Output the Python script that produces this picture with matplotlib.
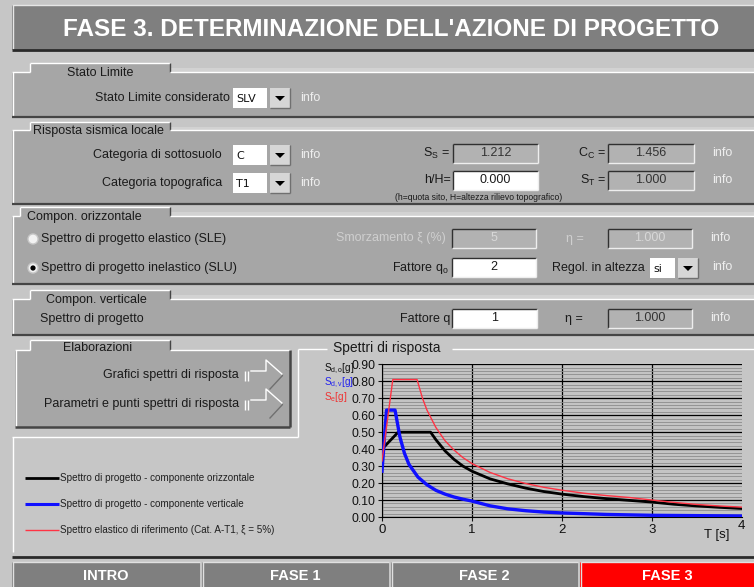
import matplotlib
matplotlib.use('Agg')
import matplotlib.pyplot as plt
from matplotlib.patches import Rectangle, Circle, Polygon

plt.rcParams['font.family'] = ['Liberation Sans', 'DejaVu Sans']
plt.rcParams['mathtext.fontset'] = 'custom'
plt.rcParams['mathtext.rm'] = 'Liberation Sans'
plt.rcParams['mathtext.it'] = 'Liberation Sans:italic'

# spettro di progetto - componente orizzontale (SLU, q=2)
t_oriz = [0.00, 0.18, 0.54, 0.60, 0.70, 0.80, 0.90, 1.00, 1.20, 1.40, 1.60, 1.80,
          2.00, 2.25, 2.50, 2.75, 3.00, 3.25, 3.50, 3.75, 4.00]
sd_oriz = [0.40, 0.50, 0.50, 0.455, 0.39, 0.34, 0.30, 0.27, 0.225, 0.195, 0.17, 0.15,
           0.135, 0.12, 0.108, 0.098, 0.088, 0.075, 0.065, 0.057, 0.05]

# spettro di progetto - componente verticale
t_vert = [0.00, 0.05, 0.145, 0.20, 0.25, 0.30, 0.40, 0.50, 0.60, 0.70, 0.80, 0.90,
          1.00, 1.20, 1.40, 1.60, 1.80, 2.00, 2.50, 3.00, 3.50, 4.00]
sd_vert = [0.27, 0.63, 0.63, 0.47, 0.375, 0.31, 0.235, 0.19, 0.157, 0.135, 0.118, 0.105,
           0.094, 0.066, 0.048, 0.037, 0.029, 0.024, 0.015, 0.010, 0.008, 0.006]

# spettro elastico di riferimento (Cat. A-T1)
t_el = [0.00, 0.12, 0.39, 0.45, 0.50, 0.60, 0.70, 0.80, 0.90, 1.00, 1.20, 1.40, 1.60,
        1.80, 2.00, 2.25, 2.50, 2.75, 3.00, 3.25, 3.50, 3.75, 4.00]
se_el = [0.33, 0.81, 0.81, 0.70, 0.63, 0.527, 0.45, 0.395, 0.35, 0.315, 0.263, 0.225, 0.197,
         0.175, 0.158, 0.14, 0.126, 0.115, 0.10, 0.086, 0.074, 0.065, 0.058]

y_ticks = [0.0, 0.1, 0.2, 0.3, 0.4, 0.5, 0.6, 0.7, 0.8, 0.9]
y_minor = [i / 50 for i in range(46)]
x_ticks = [0, 1, 2, 3]

legend_labels = ['Spettro di progetto - componente orizzontale',
                 'Spettro di progetto - componente verticale',
                 'Spettro elastico di riferimento (Cat. A-T1, \u03be = 5%)']
tab_labels = ['INTRO', 'FASE 1', 'FASE 2', 'FASE 3']

stato_limite = 'SLV'
cat_sottosuolo = 'C'
cat_topografica = 'T1'
ss_val, cc_val, hH_val, st_val = '1.212', '1.456', '0.000', '1.000'
smorz_val, eta_val, q0_val, regol_val, qv_val = '5', '1.000', '2', 'si', '1'

W, H = 754, 587
BG = '#c6c6c6'
PANEL = '#a6a6a6'
DARK = '#454545'
FS = 9

fig = plt.figure(figsize=(W / 100, H / 100), dpi=100)
fig.patch.set_facecolor(BG)
ui = fig.add_axes([0, 0, 1, 1])
ui.set_xlim(0, W)
ui.set_ylim(H, 0)
ui.axis('off')


def rect(x0, y0, x1, y1, fc, ec='none', lw=1, z=1):
    ui.add_patch(Rectangle((x0, y0), x1 - x0, y1 - y0, fc=fc, ec=ec, lw=lw, zorder=z))


def hline(x0, x1, y, c, lw=1, z=3):
    ui.plot([x0, x1], [y, y], color=c, lw=lw, zorder=z, solid_capstyle='butt')


def vline(x, y0, y1, c, lw=1, z=3):
    ui.plot([x, x], [y0, y1], color=c, lw=lw, zorder=z, solid_capstyle='butt')


def txt(x, y, s, size=FS, color='#1a1a1a', ha='left', **kw):
    ui.text(x, y, s, fontsize=size, color=color, ha=ha, va='center', zorder=6, **kw)


def field(x0, x1, yc, s, fc='white', tc='#1a1a1a', h=19):
    rect(x0, yc - h / 2, x1, yc + h / 2, fc, z=2)
    hline(x0, x1, yc - h / 2, '#303030')
    vline(x0, yc - h / 2, yc + h / 2, '#303030')
    hline(x0, x1, yc + h / 2, '#eeeeee')
    vline(x1, yc - h / 2, yc + h / 2, '#eeeeee')
    txt((x0 + x1) / 2, yc, s, size=9, color=tc, ha='center')


def combo(x0, x1, yc, s, h=20):
    rect(x0, yc - h / 2, x1, yc + h / 2, 'white', z=2)
    txt(x0 + 3, yc + 1, s, size=8, color='#101010', family=['DejaVu Sans'])
    bx0, bx1 = x1 + 3, x1 + 23
    rect(bx0, yc - h / 2, bx1, yc + h / 2, '#d6d6d6', z=2)
    vline(bx1, yc - h / 2, yc + h / 2, '#707070')
    hline(bx0, bx1, yc + h / 2, '#707070')
    cx = (bx0 + bx1) / 2
    ui.add_patch(Polygon([[cx - 5, yc - 2], [cx + 5, yc - 2], [cx, yc + 3]],
                         closed=True, fc='black', ec='none', zorder=4))


def info(x, y):
    txt(x, y, 'info', color='#eeeeee')


def section(y_tab, y0, y1, label, x_tab0=30, x_tab1=170, x0=12, x_end=W, lx=None):
    rect(x0, y0, x_end, y1, PANEL)
    rect(x_tab1, y_tab + 5, x_end, y0, '#d2d2d2')
    rect(x_tab0, y_tab, x_tab1, y0 + 1, PANEL, z=2)
    hline(x_tab0, x_tab1, y_tab, 'white')
    vline(x_tab0, y_tab, y0, 'white')
    vline(x_tab1, y_tab, y0, DARK)
    hline(x0, x_tab0, y0, 'white')
    hline(x_tab1, x_end, y0, 'white')
    vline(x0 + 1, y0, y1, 'white')
    hline(x0, x_end, y1, DARK, lw=1.6)
    txt(lx if lx is not None else x_tab0 + 37, y0 + 1, label)


# title bar
rect(12, 5, W, 50, '#7f7f7f')
hline(12, W, 5, '#e6e6e6')
vline(12.5, 5, 50, '#e6e6e6')
hline(12, W, 50, '#2a2a2a', lw=2)
txt(391, 29, "FASE 3. DETERMINAZIONE DELL'AZIONE DI PROGETTO", size=17.5, color='white',
    ha='center', weight='bold')

# Stato Limite
section(63, 72, 117, 'Stato Limite')
txt(230, 98, 'Stato Limite considerato', ha='right')
combo(233, 267, 98, stato_limite)
info(300, 98)

# Risposta sismica locale
section(122, 130, 204, 'Risposta sismica locale', lx=33)
txt(222, 155, 'Categoria di sottosuolo', ha='right')
combo(233, 267, 155, cat_sottosuolo)
info(300, 155)
txt(222, 183, 'Categoria topografica', ha='right')
combo(233, 267, 183, cat_topografica)
info(300, 183)
txt(450, 153, r'S$_\mathrm{S}$ =', ha='right')
field(453, 538, 153, ss_val, fc='#b2b2b2', tc='#333333')
txt(606, 153, r'C$_\mathrm{C}$ =', ha='right')
field(608, 694, 153, cc_val, fc='#b2b2b2', tc='#333333')
info(712, 153)
txt(451, 180, 'h/H=', ha='right')
field(453, 538, 180, hH_val)
txt(606, 180, r'S$_\mathrm{T}$ =', ha='right')
field(608, 694, 180, st_val, fc='#b2b2b2', tc='#333333')
info(712, 180)
txt(395, 198, '(h=quota sito, H=altezza rilievo topografico)', size=6.2)

# Compon. orizzontale
section(207, 216, 284, 'Compon. orizzontale', x_tab0=20, lx=27)
ui.add_patch(Circle((33, 239), 5, fc='#f2f2f2', ec='#c8c8c8', lw=1, zorder=4))
txt(41, 239, 'Spettro di progetto elastico (SLE)')
txt(446, 238, 'Smorzamento \u03be (%)', ha='right', color='#cfcfcf')
field(452, 536, 238, smorz_val, fc='#b2b2b2', tc='#d8d8d8')
txt(584, 239, '\u03b7 =', ha='right', color='#cfcfcf')
field(608, 692, 238, eta_val, fc='#b2b2b2', tc='#d8d8d8')
info(710, 238)
ui.add_patch(Circle((33, 268), 5, fc='#f2f2f2', ec='#c8c8c8', lw=1, zorder=4))
ui.add_patch(Circle((33, 268), 2.6, fc='black', ec='none', zorder=5))
txt(41, 268, 'Spettro di progetto inelastico (SLU)')
txt(449, 268, r'Fattore q$_\mathrm{o}$', ha='right')
field(452, 536, 267, q0_val)
txt(552, 268, 'Regol. in altezza')
combo(650, 675, 268, regol_val)
info(712, 267)

# Compon. verticale
section(290, 299, 335, 'Compon. verticale', x_tab0=30, lx=46)
txt(40, 319, 'Spettro di progetto')
txt(450, 319, 'Fattore q', ha='right')
field(452, 537, 318, qv_val)
txt(583, 319, '\u03b7 =', ha='right')
field(608, 692, 318, eta_val, fc='#b2b2b2', tc='#333333')
info(710, 318)

# Elaborazioni
rect(15, 350, 290, 427, PANEL)
rect(30, 340, 170, 351, PANEL, z=2)
hline(30, 170, 340, 'white')
vline(30, 340, 350, 'white')
vline(170, 340, 350, DARK)
hline(15, 30, 350, 'white')
hline(170, 290, 350, 'white')
vline(15.5, 350, 427, 'white')
hline(15, 290, 427, DARK, lw=1.8)
vline(290, 350, 427, DARK, lw=1.8)
txt(63, 348, 'Elaborazioni')
for yy, lab in [(375, 'Grafici spettri di risposta'),
                (404, 'Parametri e punti spettri di risposta')]:
    txt(239, yy, lab, ha='right')
    vline(245, yy - 4, yy + 6, 'white')
    vline(248, yy - 4, yy + 6, 'white')
    ui.plot([251, 266, 266, 283], [yy - 4, yy - 4, yy - 15, yy], color='white', lw=1, zorder=4)
    ui.plot([283, 270], [yy, yy + 14], color='#707070', lw=1, zorder=4)

# frame of chart / legend group
hline(298, 327, 349, 'white')
hline(452, W, 349, 'white')
vline(298, 349, 437, 'white')
hline(12, 298, 437, 'white')
vline(12.5, 437, 552, 'white')
txt(333, 348, 'Spettri di risposta', size=10)

# legend
leg_cols = ['black', '#1010ff', '#ff3344']
leg_lw = [2, 2.2, 1]
for i, (lab, c) in enumerate(zip(legend_labels, leg_cols)):
    yy = 478 + 26 * i
    hline(25, 59, yy, c, lw=leg_lw[i])
    txt(60, yy, lab, size=7.1, color='#202020')

# y labels
txt(324, 369, r'S$_\mathrm{d,o}$[g]', size=7.2, color='#111111')
txt(324, 383, r'S$_\mathrm{d,v}$[g]', size=7.2, color='#2222ee')
txt(324, 397, r'S$_\mathrm{e}$[g]', size=7.2, color='#ee3333')

# bottom tabs
hline(12, W, 557, '#2a2a2a', lw=2)
tab_x = [(12, 200), (202, 389), (391, 578), (580, W)]
for (x0, x1), lab in zip(tab_x, tab_labels):
    fc = '#ff0000' if lab == 'FASE 3' else '#7f7f7f'
    rect(x0, 562, x1, H, fc)
    hline(x0, x1, 562, '#e0e0e0')
    vline(x0 + 0.5, 562, H, '#e0e0e0')
    txt((x0 + x1) / 2, 576, lab, size=10.5, color='white', ha='center', weight='bold')

# chart
ax = fig.add_axes([382 / W, 1 - 517 / H, (741.7 - 382) / W, (517 - 364.3) / H])
ax.set_facecolor('#c4c4c4')
ax.set_xlim(0, 4)
ax.set_ylim(0, 0.9)
ax.set_yticks(y_minor, minor=True)
ax.set_yticks(y_ticks)
ax.set_yticklabels(['%.2f' % v for v in y_ticks])
ax.set_xticks(x_ticks)
ax.grid(which='minor', axis='y', color='#8c8c8c', lw=0.6)
ax.grid(which='major', axis='both', color='black', lw=0.9)
ax.tick_params(which='minor', length=0)
ax.tick_params(which='major', length=3, width=0.8, labelsize=8.7, colors='#111111', pad=1.5)
ax.tick_params(axis='x', pad=2, labelsize=9.5)
for s in ['top', 'right']:
    ax.spines[s].set_visible(False)
for s in ['left', 'bottom']:
    ax.spines[s].set_color('black')
ax.set_axisbelow(True)

ax.plot(t_oriz, sd_oriz, color='black', lw=2, zorder=3)
ax.plot(t_vert, sd_vert, color='#1010ff', lw=2.4, zorder=4)
ax.plot(t_el, se_el, color='#ff3344', lw=1.0, zorder=5)

ax.text(4, -0.055, '4', ha='center', va='center', fontsize=9.5, color='#111111', clip_on=False)
ax.text(3.72, -0.105, 'T [s]', ha='center', va='center', fontsize=9.5, color='#111111', clip_on=False)

fig.savefig('out.png', dpi=100, facecolor=fig.get_facecolor())
